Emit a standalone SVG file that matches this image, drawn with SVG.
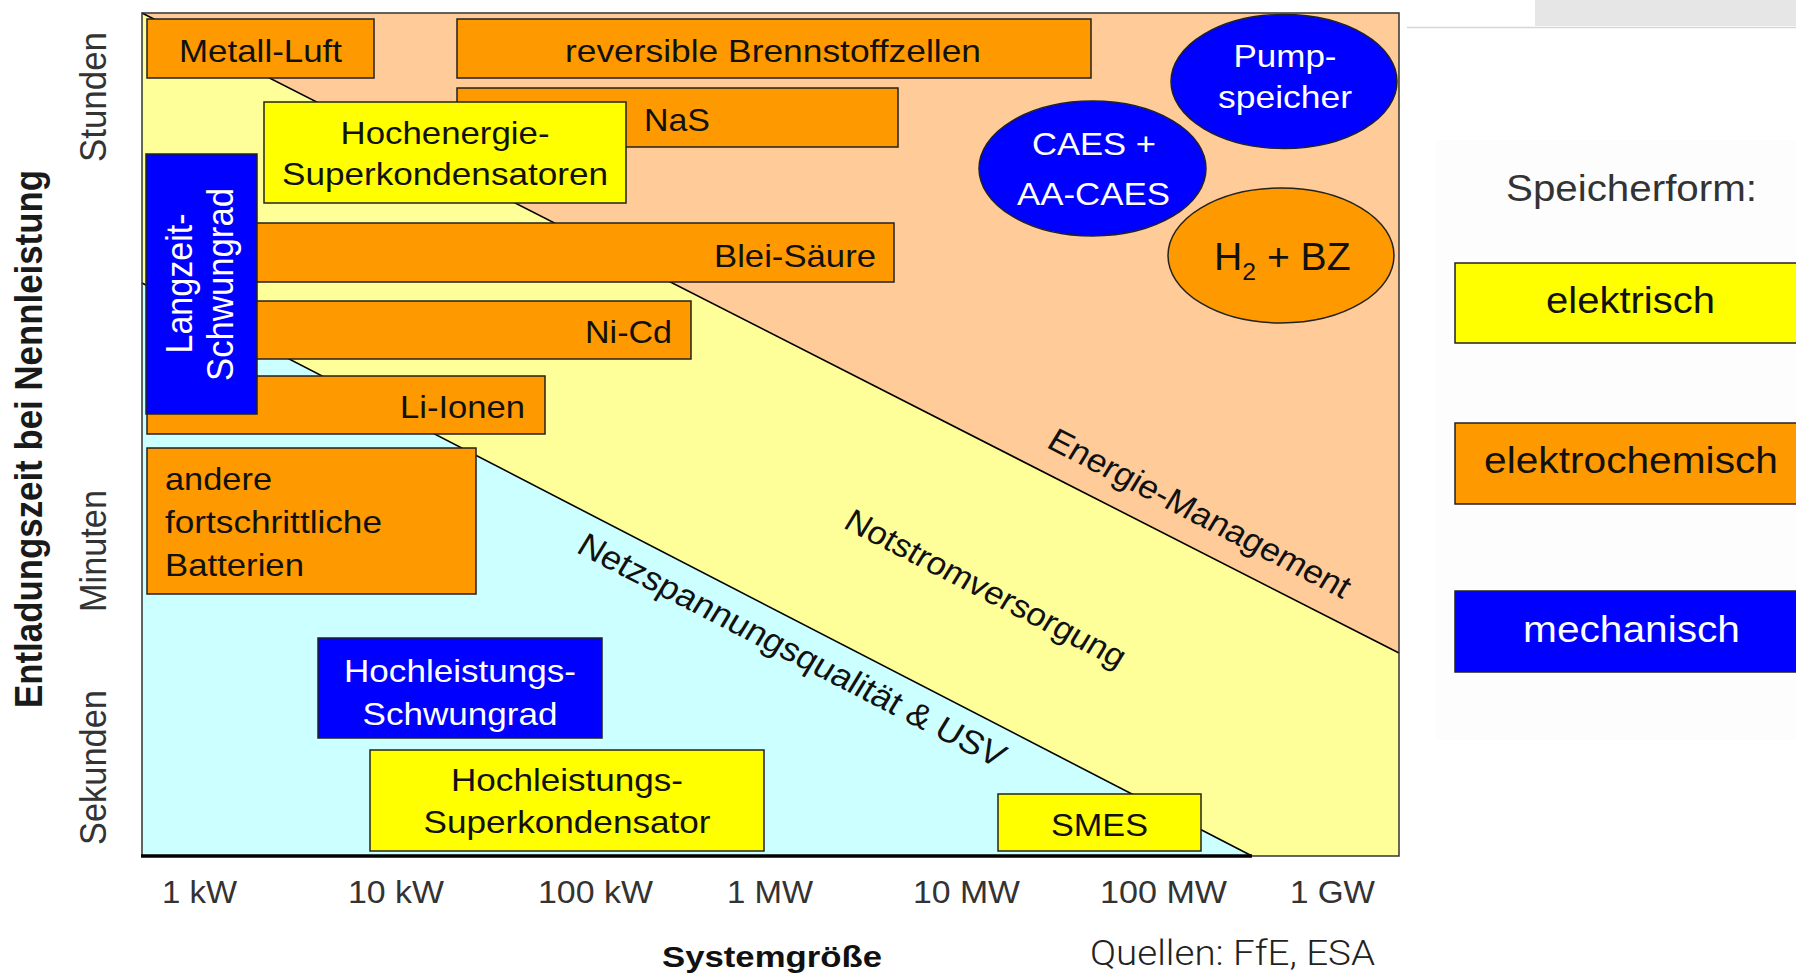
<svg xmlns="http://www.w3.org/2000/svg" width="1796" height="974" viewBox="0 0 1796 974">
<style>
.bx{stroke:#222;stroke-width:1.5}
.or{fill:#FF9900}.ye{fill:#FFFF00}.bl{fill:#0000FF}
.t{font-family:"Liberation Sans",Arial,sans-serif;font-size:32px;fill:#111}
.w{fill:#fff}
.ax{font-family:"Liberation Sans",Arial,sans-serif;fill:#333}
.bnd{stroke:#000;stroke-width:1.6;fill:none}
</style>
<rect x="0" y="0" width="1796" height="974" fill="#fff"/>
<g id="page-decor">
<rect x="1535" y="0" width="261" height="26" fill="#E6E6E6"/>
<line x1="1407" y1="27.5" x2="1796" y2="27.5" stroke="#D6D6D6" stroke-width="1.5"/>
<rect x="1435" y="140" width="361" height="600" fill="#FDFDFD"/>
</g>
<g id="chart-regions">
<rect x="142" y="13" width="1257" height="843" fill="#CCFFFF"/>
<polygon points="142,13 1399,13 1399,856 1252,856 142,283" fill="#FFFF99"/>
<polygon points="142,13 1399,13 1399,653" fill="#FFCC99"/>
</g>
<g id="connectors">
<line class="bnd" x1="142" y1="13" x2="1399" y2="653"/>
<line class="bnd" x1="142" y1="283" x2="1252" y2="856"/>
</g>
<g id="frame">
<rect x="142" y="13" width="1257" height="843" fill="none" stroke="#333" stroke-width="1.5"/>
<line x1="141" y1="856" x2="1252" y2="856" stroke="#000" stroke-width="3.5"/>
</g>
<g id="region-labels" class="t">
<text transform="translate(1194,523) scale(1.09,1) rotate(29.2)" text-anchor="middle" style="font-size:32.5px">Energie-Management</text>
<text transform="translate(980,598) scale(1.09,1) rotate(29.2)" text-anchor="middle">Notstromversorgung</text>
<text transform="translate(786,660) scale(1.09,1) rotate(29.2)" text-anchor="middle" style="font-size:33px">Netzspannungsqualität &amp; USV</text>
</g>
<g id="metall-luft"><rect class="bx or" x="147" y="19" width="227" height="59"/><text class="t" x="260.5" y="62" text-anchor="middle" textLength="163" lengthAdjust="spacingAndGlyphs">Metall-Luft</text></g>
<g id="reversible-bz"><rect class="bx or" x="457" y="19" width="634" height="59"/><text class="t" x="773" y="62" text-anchor="middle" textLength="416" lengthAdjust="spacingAndGlyphs">reversible Brennstoffzellen</text></g>
<g id="nas"><rect class="bx or" x="457" y="88" width="441" height="59"/><text class="t" x="644" y="131" textLength="66" lengthAdjust="spacingAndGlyphs">NaS</text></g>
<g id="hochenergie-sk"><rect class="bx ye" x="264" y="102" width="362" height="101"/><text class="t" x="445" y="144" text-anchor="middle" textLength="209" lengthAdjust="spacingAndGlyphs">Hochenergie-</text><text class="t" x="445" y="185" text-anchor="middle" textLength="326" lengthAdjust="spacingAndGlyphs">Superkondensatoren</text></g>
<g id="blei-saeure"><rect class="bx or" x="147" y="223" width="747" height="59"/><text class="t" x="876" y="267" text-anchor="end" textLength="162" lengthAdjust="spacingAndGlyphs">Blei-Säure</text></g>
<g id="ni-cd"><rect class="bx or" x="147" y="301" width="544" height="58"/><text class="t" x="672" y="343" text-anchor="end" textLength="87" lengthAdjust="spacingAndGlyphs">Ni-Cd</text></g>
<g id="li-ionen"><rect class="bx or" x="147" y="376" width="398" height="58"/><text class="t" x="525" y="418" text-anchor="end" textLength="125" lengthAdjust="spacingAndGlyphs">Li-Ionen</text></g>
<g id="langzeit-schwungrad"><rect class="bx bl" x="146" y="154" width="111" height="260"/>
<text class="t w" style="font-size:34.5px" transform="translate(192,283.5) scale(1.09,1) rotate(-90)" text-anchor="middle" textLength="140" lengthAdjust="spacingAndGlyphs">Langzeit-</text>
<text class="t w" style="font-size:34.5px" transform="translate(233,284.5) scale(1.09,1) rotate(-90)" text-anchor="middle" textLength="193" lengthAdjust="spacingAndGlyphs">Schwungrad</text></g>
<g id="andere-batterien"><rect class="bx or" x="147" y="448" width="329" height="146"/><text class="t" x="165" y="490" textLength="107" lengthAdjust="spacingAndGlyphs">andere</text><text class="t" x="165" y="533" textLength="217" lengthAdjust="spacingAndGlyphs">fortschrittliche</text><text class="t" x="165" y="576" textLength="139" lengthAdjust="spacingAndGlyphs">Batterien</text></g>
<g id="hl-schwungrad"><rect class="bx bl" x="318" y="638" width="284" height="100"/><text class="t w" x="460" y="682" text-anchor="middle" textLength="232" lengthAdjust="spacingAndGlyphs">Hochleistungs-</text><text class="t w" x="460" y="725" text-anchor="middle" textLength="195" lengthAdjust="spacingAndGlyphs">Schwungrad</text></g>
<g id="hl-superkondensator"><rect class="bx ye" x="370" y="750" width="394" height="101"/><text class="t" x="567" y="791" text-anchor="middle" textLength="232" lengthAdjust="spacingAndGlyphs">Hochleistungs-</text><text class="t" x="567" y="833" text-anchor="middle" textLength="287" lengthAdjust="spacingAndGlyphs">Superkondensator</text></g>
<g id="smes"><rect class="bx ye" x="998" y="794" width="203" height="57"/><text class="t" x="1099.5" y="836" text-anchor="middle" textLength="97" lengthAdjust="spacingAndGlyphs">SMES</text></g>
<g id="pumpspeicher"><ellipse class="bx bl" cx="1284" cy="81.5" rx="113" ry="67"/><text class="t w" x="1285" y="67" text-anchor="middle" textLength="103" lengthAdjust="spacingAndGlyphs">Pump-</text><text class="t w" x="1285" y="108" text-anchor="middle" textLength="134" lengthAdjust="spacingAndGlyphs">speicher</text></g>
<g id="caes"><ellipse class="bx bl" cx="1092.5" cy="168.5" rx="113.5" ry="67.5"/><text class="t w" x="1094" y="155" text-anchor="middle" textLength="124" lengthAdjust="spacingAndGlyphs">CAES +</text><text class="t w" x="1093.5" y="205" text-anchor="middle" textLength="153" lengthAdjust="spacingAndGlyphs">AA-CAES</text></g>
<g id="h2-bz"><ellipse class="bx or" cx="1281" cy="255.5" rx="113" ry="67.5"/><text class="t" style="font-size:38px" transform="translate(1214,270) scale(1.03,1)" x="0" y="0">H<tspan style="font-size:24px" dy="10">2</tspan><tspan dy="-10"> + BZ</tspan></text></g>
<g id="y-axis">
<text class="ax" style="font-size:34.8px;font-weight:bold;fill:#1a1a1a" transform="translate(42,439) scale(1.09,1) rotate(-90)" text-anchor="middle" textLength="538" lengthAdjust="spacingAndGlyphs">Entladungszeit bei Nennleistung</text>
<text class="ax" style="font-size:34.5px" transform="translate(106,97) scale(1.09,1) rotate(-90)" text-anchor="middle" textLength="130" lengthAdjust="spacingAndGlyphs">Stunden</text>
<text class="ax" style="font-size:34.5px" transform="translate(106,551) scale(1.09,1) rotate(-90)" text-anchor="middle" textLength="122" lengthAdjust="spacingAndGlyphs">Minuten</text>
<text class="ax" style="font-size:34.5px" transform="translate(106,767.5) scale(1.09,1) rotate(-90)" text-anchor="middle" textLength="155" lengthAdjust="spacingAndGlyphs">Sekunden</text>
</g>
<g id="x-axis" class="ax" style="font-size:31px" text-anchor="middle">
<text x="199.5" y="903" textLength="75" lengthAdjust="spacingAndGlyphs">1 kW</text>
<text x="396" y="903" textLength="96" lengthAdjust="spacingAndGlyphs">10 kW</text>
<text x="595.5" y="903" textLength="115" lengthAdjust="spacingAndGlyphs">100 kW</text>
<text x="770" y="903" textLength="86" lengthAdjust="spacingAndGlyphs">1 MW</text>
<text x="966.5" y="903" textLength="107" lengthAdjust="spacingAndGlyphs">10 MW</text>
<text x="1163.5" y="903" textLength="127" lengthAdjust="spacingAndGlyphs">100 MW</text>
<text x="1332.5" y="903" textLength="85" lengthAdjust="spacingAndGlyphs">1 GW</text>
<text x="772" y="967" style="font-size:30px;font-weight:bold;fill:#111" textLength="220" lengthAdjust="spacingAndGlyphs">Systemgröße</text>
</g>
<g id="source"><text x="1090" y="965" style="font-family:Roboto,'Liberation Sans',sans-serif;font-weight:300;font-size:35px;fill:#222" textLength="285" lengthAdjust="spacingAndGlyphs">Quellen: FfE, ESA</text></g>
<g id="legend">
<text class="ax" x="1506" y="201" style="font-size:37px" textLength="251" lengthAdjust="spacingAndGlyphs">Speicherform:</text>
<g id="legend-elektrisch"><rect class="bx ye" x="1455" y="263" width="360" height="80"/><text class="t" style="font-size:37px" x="1630.5" y="313" text-anchor="middle" textLength="169" lengthAdjust="spacingAndGlyphs">elektrisch</text></g>
<g id="legend-elektrochemisch"><rect class="bx or" x="1455" y="423" width="360" height="81"/><text class="t" style="font-size:37px" x="1631" y="473" text-anchor="middle" textLength="294" lengthAdjust="spacingAndGlyphs">elektrochemisch</text></g>
<g id="legend-mechanisch"><rect class="bx bl" x="1455" y="591" width="360" height="81"/><text class="t w" style="font-size:37px" x="1631.5" y="642" text-anchor="middle" textLength="217" lengthAdjust="spacingAndGlyphs">mechanisch</text></g>
</g>
</svg>
